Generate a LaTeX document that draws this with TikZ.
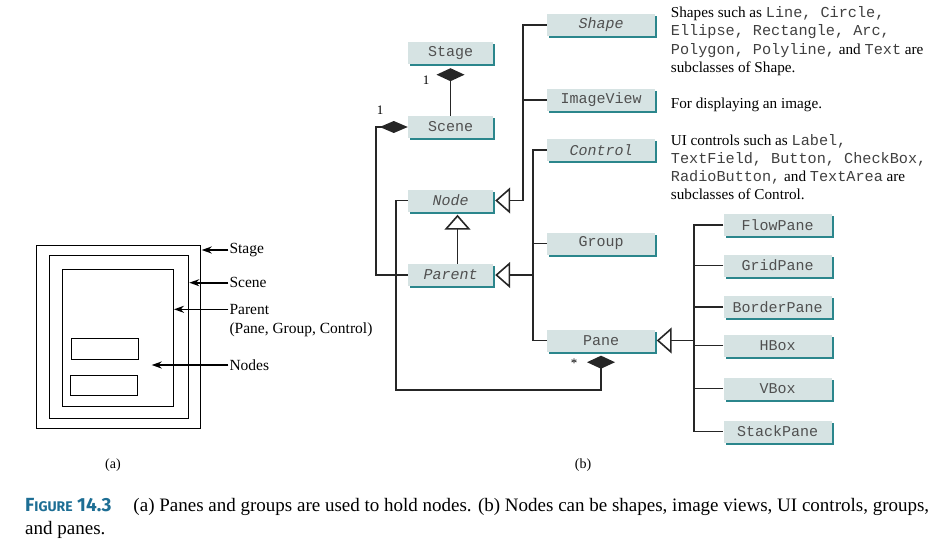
\documentclass[tikz,border=0pt]{standalone}
\usepackage{fontspec}
\setmainfont{Liberation Serif}
\setmonofont{Liberation Mono}
\newfontfamily\figfont{Fira Sans}
\usetikzlibrary{arrows.meta,shadows}
\definecolor{boxfill}{HTML}{D6E3E3}
\definecolor{boxshade}{HTML}{2B868C}
\definecolor{boxtext}{HTML}{505050}
\definecolor{figblue}{HTML}{1D6E94}
\newcommand{\code}[1]{{\ttfamily\color{black!75}#1}}
\tikzset{
  cls/.style={fill=boxfill, minimum width=85pt, minimum height=22pt, inner sep=0pt,
    font=\ttfamily\fontsize{15}{18}\selectfont, text=boxtext,
    general shadow={fill=boxshade, shadow xshift=2pt, shadow yshift=-2pt}},
  wide/.style={cls, minimum width=108pt},
  abs/.style={font=\ttfamily\itshape\fontsize{15}{18}\selectfont},
  link/.style={line width=1.6pt, draw=black!85},
  inh/.style={link, -{Triangle[open, length=15pt, width=26pt]}},
  compv/.style={link, -{Diamond[length=13pt, width=28pt]}},
  comph/.style={link, -{Diamond[length=28pt, width=12pt]}},
  desc/.style={anchor=north west, align=left, inner sep=0pt, font=\fontsize{15.2}{18.2}\selectfont},
  lbl/.style={anchor=west, inner sep=1pt, font=\fontsize{15.5}{18}\selectfont},
  pointer/.style={line width=1.6pt, -{Stealth[length=10pt, width=7pt]}},
  frame/.style={line width=1pt}
}
\begin{document}
\begin{tikzpicture}[x=1pt, y=-1pt]
\useasboundingbox (0,0) rectangle (949,547);
% (a) nested containers
\draw[frame] (36,245) rectangle (200.7,428.3);
\draw[frame] (49.3,255) rectangle (188.3,418.3);
\draw[frame] (62.3,269.3) rectangle (173.3,406.7);
\draw[frame] (71,338.3) rectangle (138.3,359.3);
\draw[frame] (70,375) rectangle (137.3,395);
\coordinate (stagept) at (201.7,250);
\coordinate (scenept) at (189.3,282.7);
\coordinate (parentpt) at (174,309.3);
\coordinate (nodespt) at (151.7,365);
\node[lbl] (stagelbl) at (228.3,250) {Stage};
\node[lbl] (scenelbl) at (228.3,282.7) {Scene};
\node[lbl] (parentlbl) at (228.3,309.3) {Parent};
\node[lbl] (parentsub) at (228.3,330) {(Pane, Group, Control)};
\node[lbl] (nodeslbl) at (228.3,365) {Nodes};
\draw[pointer] (stagelbl.west) -- (stagept);
\draw[pointer] (scenelbl.west) -- (scenept);
\draw[pointer] (parentlbl.west) -- (parentpt);
\draw[pointer] (nodeslbl.west) -- (nodespt);
\node[font=\fontsize{14}{16}\selectfont] (alabel) at (113,465) {(a)};

% (b) class diagram
\node[cls] (stage) at (450.5,53) {Stage};
\node[cls] (scene) at (450.5,127) {Scene};
\node[cls, abs] (node) at (450.5,200.5) {Node};
\node[cls, abs] (parent) at (450.5,275) {Parent};
\node[wide, abs] (shape) at (601,25) {Shape};
\node[wide] (imageview) at (601,100) {ImageView};
\node[wide, abs] (control) at (601,150) {Control};
\node[wide] (group) at (601,243.5) {Group};
\node[wide] (pane) at (601,340.5) {Pane};
\node[wide] (flowpane) at (777.5,225) {FlowPane};
\node[wide] (gridpane) at (777.5,265.5) {GridPane};
\node[wide] (borderpane) at (777.5,307) {BorderPane};
\node[wide] (hbox) at (777.5,345.5) {HBox};
\node[wide] (vbox) at (777.5,388.5) {VBox};
\node[wide] (stackpane) at (777.5,431.5) {StackPane};

\coordinate (tnode) at (523,200.5);
\coordinate (tparent) at (533,275);
\coordinate (tpane) at (694,340.5);
\coordinate (sbend) at (376,275);
\coordinate (nbend) at (396,390);

\draw[compv, shorten >=4pt] (scene.north) -- (stage.south);
\draw[comph] (parent.west) -- (sbend) |- (scene.west);
\draw[compv, shorten >=4pt] (node.west) -| (nbend) -| (pane.south);
\draw[inh, shorten >=3pt] ([xshift=7pt]parent.north) -- ([xshift=7pt]node.south);
\draw[inh, shorten >=2pt] (tnode) -- (node.east);
\draw[link] (shape.west) -| (tnode);
\draw[link] (imageview.west) -- (imageview.west -| tnode);
\draw[inh, shorten >=2pt] (tparent) -- (parent.east);
\draw[link] (control.west) -| (tparent) |- (pane.west);
\draw[link] (group.west) -- (group.west -| tparent);
\draw[inh, shorten >=1.5pt] (tpane) -- (pane.east);
\draw[link] (flowpane.west) -| (tpane) |- (stackpane.west);
\foreach \p in {gridpane,borderpane,hbox,vbox}
  \draw[link] (\p.west) -- (\p.west -| tpane);

\node[font=\fontsize{13}{15}\selectfont] at (426,80) (onestage) {1};
\node[font=\fontsize{13}{15}\selectfont] at (380,110) (onescene) {1};
\node[font=\fontsize{13}{15}\selectfont] at (574,363) (manypane) {*};

\node[desc] (shapedesc) at (670.7,6.5) {Shapes such as \code{Line, Circle,}\\
  \code{Ellipse, Rectangle, Arc,}\\
  \code{Polygon, Polyline,} and \code{Text} are\\
  subclasses of Shape.};
\node[desc] (imagedesc) at (670.7,98) {For displaying an image.};
\node[desc] (controldesc) at (670.7,134) {UI controls such as \code{Label,}\\
  \code{TextField, Button, CheckBox,}\\
  \code{RadioButton,} and \code{TextArea} are\\
  subclasses of Control.};
\node[font=\fontsize{14}{16}\selectfont] (blabel) at (583,465) {(b)};

% caption
\node[anchor=west, inner sep=0pt, font=\fontsize{19}{22}\selectfont] (capfirst) at (25,506.7)
  {{\figfont\bfseries\color{figblue}F{\fontsize{14}{16}\selectfont IGURE} 14.3}\hspace{22pt}(a) Panes and groups are used to hold nodes. (b) Nodes can be shapes, image views, UI controls, groups,};
\node[anchor=west, inner sep=0pt, font=\fontsize{19}{22}\selectfont] (capsecond) at (25,530) {and panes.};
\end{tikzpicture}
\end{document}
